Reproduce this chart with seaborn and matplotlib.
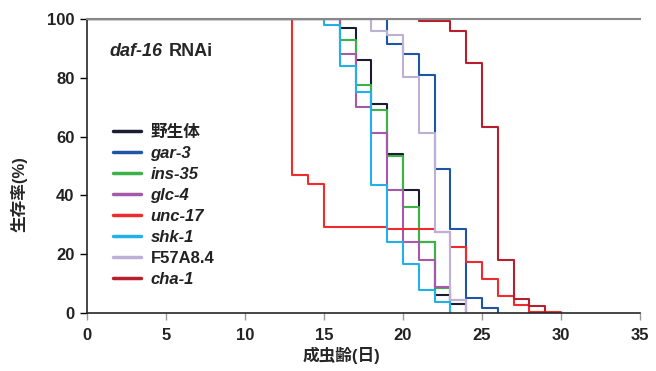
import pandas as pd
import numpy as np
import matplotlib
matplotlib.use("Agg")
import matplotlib.pyplot as plt
import seaborn as sns

# survival data (day, % alive)
strains = ["野生体", "gar-3", "ins-35", "glc-4", "unc-17", "shk-1", "F57A8.4", "cha-1"]

wt_days = [0, 16, 17, 18, 19, 20, 21, 22, 23, 24]
wt_surv = [100, 97, 86, 71, 54, 42, 24, 6, 3, 0]

gar3_days = [0, 19, 20, 21, 22, 23, 24, 25, 26]
gar3_surv = [100, 91.5, 88, 81, 49, 28.7, 5.2, 1.7, 0]

ins35_days = [0, 16, 17, 18, 19, 20, 21, 22, 23]
ins35_surv = [100, 93, 77.5, 69, 53.4, 36, 24.2, 8.5, 0]

glc4_days = [0, 16, 17, 18, 19, 20, 21, 22, 23, 24]
glc4_surv = [100, 88, 70, 61.2, 42, 24, 18.2, 9, 4.4, 0]

unc17_days = [0, 13, 14, 15, 19, 22, 23, 24, 25, 26, 27, 28, 30]
unc17_surv = [100, 47, 44, 29.3, 28.7, 27.6, 22.3, 17.2, 11.5, 5.9, 2.7, 0.5, 0]

shk1_days = [0, 15, 16, 17, 18, 19, 20, 21, 22, 23]
shk1_surv = [100, 98, 84, 75, 43.4, 24, 16.6, 7.8, 3.8, 0]

f57_days = [0, 18, 19, 20, 21, 22, 23, 24]
f57_surv = [100, 96, 94.7, 80.2, 61.3, 27.6, 4.4, 0]

cha1_days = [0, 21, 23, 24, 25, 26, 27, 28, 29]
cha1_surv = [100, 99.3, 95.8, 85, 63.2, 18, 4.75, 2.5, 0]

colors = ["#1c1c30", "#1f55a5", "#3db249", "#a55aa8", "#ef2b2d", "#22b0e8", "#bcb0d6", "#b81f2c"]

all_days = [wt_days, gar3_days, ins35_days, glc4_days, unc17_days, shk1_days, f57_days, cha1_days]
all_surv = [wt_surv, gar3_surv, ins35_surv, glc4_surv, unc17_surv, shk1_surv, f57_surv, cha1_surv]

rows = []
for name, d, s in zip(strains, all_days, all_surv):
    for x, y in zip(d, s):
        rows.append({"day": x, "surv": y, "strain": name})
df = pd.DataFrame(rows)

sns.set_style("ticks")
plt.rcParams["font.family"] = ["Liberation Sans", "Noto Sans CJK JP"]
plt.rcParams["font.weight"] = "bold"

fig = plt.figure(figsize=(6.56, 3.71), dpi=100)
ax = fig.add_axes([0.1326, 0.1563, 0.8430, 0.7925])

sns.lineplot(data=df, x="day", y="surv", hue="strain", hue_order=strains,
             palette=colors, estimator=None, sort=False, drawstyle="steps-post",
             linewidth=1.5, ax=ax)

ax.set_xlim(0, 35)
ax.set_ylim(0, 100)
ax.set_xticks(range(0, 36, 5))
ax.set_yticks(range(0, 101, 20))
ax.tick_params(axis="x", length=5, width=1, color="#999999", labelsize=12, pad=6)
ax.tick_params(axis="y", length=5, width=1, color="black", labelsize=12, pad=4)
for lab in ax.get_xticklabels() + ax.get_yticklabels():
    lab.set_fontweight("bold")
    lab.set_color("#222222")

ax.spines["right"].set_visible(False)
ax.spines["top"].set_color("#888888")
ax.spines["top"].set_linewidth(1.5)
ax.spines["left"].set_linewidth(1.2)
ax.spines["bottom"].set_linewidth(1.2)

ax.set_xlabel("成虫齢(日)", fontsize=12, fontweight="bold")
ax.set_ylabel("生存率(%)", fontsize=12, fontweight="bold")
ax.xaxis.set_label_coords(0.46, -0.115)
ax.yaxis.set_label_coords(-0.108, 0.405)

ax.text(0.04, 0.89, "daf-16", transform=ax.transAxes, fontsize=13,
        fontweight="bold", style="italic", va="center")
ax.text(0.147, 0.89, "RNAi", transform=ax.transAxes, fontsize=13,
        fontweight="bold", va="center")

handles, labels = ax.get_legend_handles_labels()
leg = ax.legend(handles, labels, loc="upper left", bbox_to_anchor=(0.047, 0.64),
                frameon=False, fontsize=12, handlelength=1.7, handletextpad=0.55,
                labelspacing=0.36, borderpad=0, borderaxespad=0)
for h in leg.get_lines():
    h.set_linewidth(2.5)
for t in leg.get_texts():
    t.set_fontweight("bold")
    t.set_color("#222222")
    if t.get_text() not in ("野生体", "F57A8.4"):
        t.set_style("italic")

fig.savefig("out.png", dpi=100)
